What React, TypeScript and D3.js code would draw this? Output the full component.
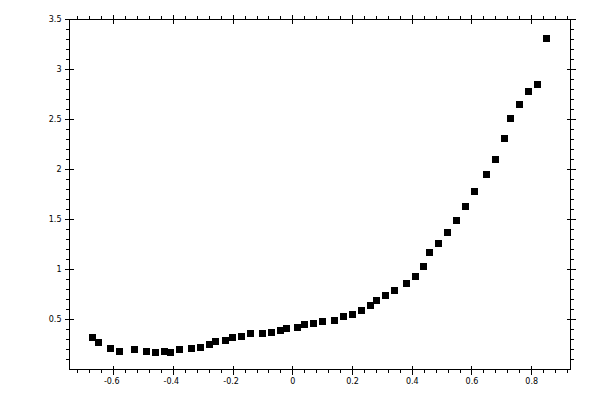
import * as d3 from 'd3';

// data
const xValues = [
  -0.672, -0.651, -0.612, -0.581, -0.53, -0.491, -0.461, -0.431, -0.411, -0.38,
  -0.34, -0.31, -0.28, -0.26, -0.224, -0.202, -0.172, -0.142, -0.102, -0.072,
  -0.042, -0.022, 0.017, 0.038, 0.069, 0.099, 0.139, 0.169, 0.199, 0.229,
  0.259, 0.28, 0.31, 0.34, 0.38, 0.41, 0.437, 0.457, 0.487, 0.517,
  0.548, 0.578, 0.608, 0.648, 0.678, 0.708, 0.728, 0.759, 0.789, 0.819, 0.849,
];
const yValues = [
  0.321, 0.27, 0.208, 0.18, 0.198, 0.18, 0.171, 0.183, 0.171, 0.198,
  0.21, 0.221, 0.253, 0.281, 0.291, 0.32, 0.333, 0.361, 0.363, 0.371,
  0.391, 0.41, 0.421, 0.45, 0.46, 0.48, 0.488, 0.53, 0.55, 0.59,
  0.641, 0.691, 0.741, 0.79, 0.86, 0.93, 1.03, 1.17, 1.26, 1.37,
  1.49, 1.63, 1.78, 1.95, 2.1, 2.31, 2.51, 2.65, 2.78, 2.85, 3.31,
];
const xTicks = [-0.6, -0.4, -0.2, 0, 0.2, 0.4, 0.6, 0.8];
const xTickLabels = ['-0.6', '-0.4', '-0.2', '0', '0.2', '0.4', '0.6', '0.8'];
const yTicks = [0.5, 1, 1.5, 2, 2.5, 3, 3.5];
const yTickLabels = ['0.5', '1', '1.5', '2', '2.5', '3', '3.5'];

const width = 600;
const height = 400;
const left = 69.5;
const right = 570.5;
const top = 19.5;
const bottom = 369.5;

export default function App() {
  const x = d3.scaleLinear().domain([-0.748, 0.93]).range([left, right]);
  const y = d3.scaleLinear().domain([0, 3.5]).range([bottom, top]);

  // minor ticks
  const xMinor = d3.range(-0.72, 0.9401, 0.04).filter(
    v => !xTicks.some(t => Math.abs(t - v) < 1e-6)
  );
  const yMinor = d3.range(0.1, 3.45, 0.1).filter(
    v => !yTicks.some(t => Math.abs(t - v) < 1e-6)
  );

  const snap = (v: number) => Math.round(v - 0.5) + 0.5;
  const points = xValues.map((v, i) => ({ x: v, y: yValues[i] }));
  const sq = 7;

  return (
    <svg
      width={width}
      height={height}
      style={{ position: 'absolute', left: 0, top: 0, background: '#fff' }}
      fontFamily="DejaVu Sans"
      fontSize={8}
    >
      <g stroke="#000" strokeWidth={1} shapeRendering="crispEdges">
        <rect x={left} y={top} width={right - left} height={bottom - top} fill="none" />
        {/* x axis ticks, bottom and top */}
        {xTicks.map(t => (
          <g key={'xM' + t}>
            <line x1={snap(x(t))} x2={snap(x(t))} y1={bottom - 4} y2={bottom + 5} />
            <line x1={snap(x(t))} x2={snap(x(t))} y1={top - 5} y2={top + 4} />
          </g>
        ))}
        {xMinor.map(t => (
          <g key={'xm' + t}>
            <line x1={snap(x(t))} x2={snap(x(t))} y1={bottom} y2={bottom + 3.5} />
            <line x1={snap(x(t))} x2={snap(x(t))} y1={top - 3.5} y2={top} />
          </g>
        ))}
        {/* y axis ticks, left and right */}
        {yTicks.map(t => (
          <g key={'yM' + t}>
            <line x1={left - 5} x2={left + 4} y1={snap(y(t))} y2={snap(y(t))} />
            <line x1={right - 4} x2={right + 5} y1={snap(y(t))} y2={snap(y(t))} />
          </g>
        ))}
        {yMinor.map(t => (
          <g key={'ym' + t}>
            <line x1={left - 3.5} x2={left} y1={snap(y(t))} y2={snap(y(t))} />
            <line x1={right} x2={right + 3.5} y1={snap(y(t))} y2={snap(y(t))} />
          </g>
        ))}
      </g>

      {xTicks.map((t, i) => (
        <text
          key={'xl' + t}
          x={x(t)}
          y={384}
          dx={t < 0 ? -2 : 0}
          textAnchor="middle"
          fill="#000"
        >
          {xTickLabels[i]}
        </text>
      ))}
      {yTicks.map((t, i) => (
        <text
          key={'yl' + t}
          x={61.5}
          y={y(t)}
          dy="0.35em"
          textAnchor="end"
          fill="#000"
        >
          {yTickLabels[i]}
        </text>
      ))}

      <g fill="#000" shapeRendering="crispEdges">
        {points.map((d, i) => (
          <rect
            key={i}
            x={Math.round(x(d.x) - sq / 2)}
            y={Math.round(y(d.y) - sq / 2)}
            width={sq}
            height={sq}
          />
        ))}
      </g>
    </svg>
  );
}
